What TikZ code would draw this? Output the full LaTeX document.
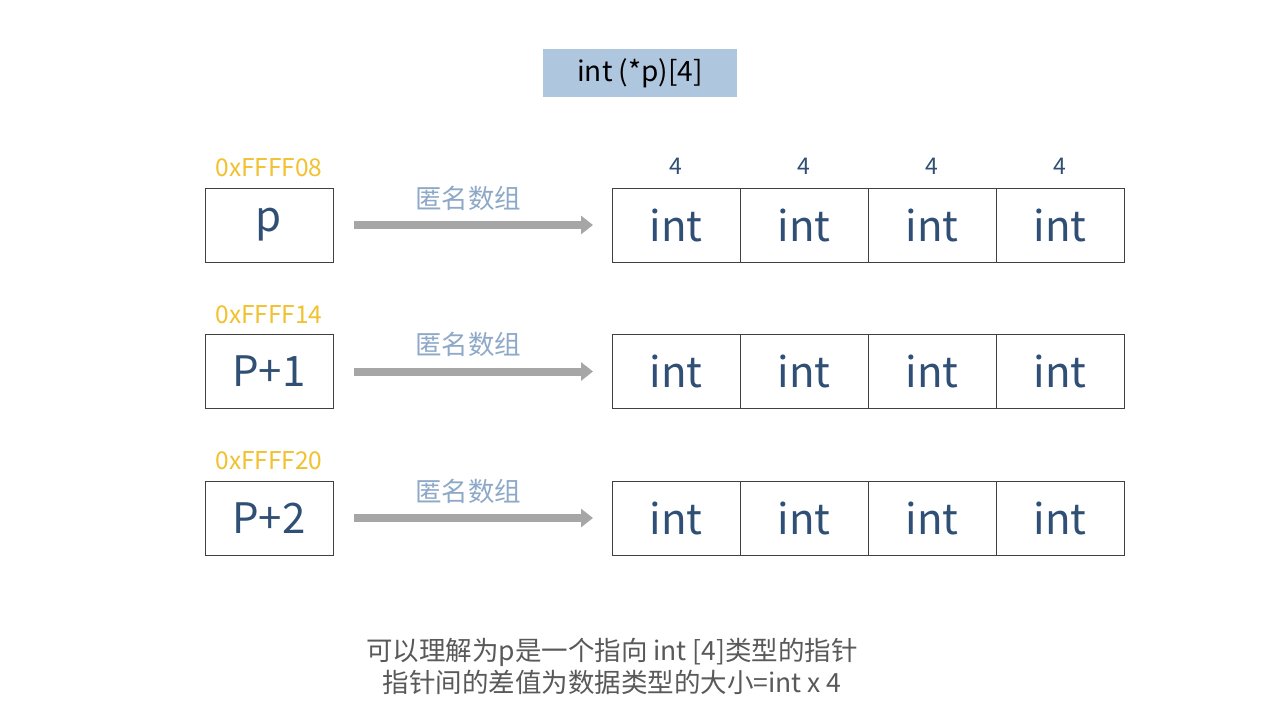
\documentclass[tikz,border=0pt]{standalone}
\usepackage{fontspec}
\setmainfont{Noto Sans CJK SC}[Scale=1]
\usetikzlibrary{arrows.meta}
\definecolor{titlebg}{HTML}{AFC6DF}
\definecolor{addr}{HTML}{F2C12E}
\definecolor{dkblue}{HTML}{2F5074}
\definecolor{lblue}{HTML}{8EA9C8}
\definecolor{arrgray}{HTML}{A6A6A6}
\definecolor{txtgray}{HTML}{595959}
\begin{document}
\begin{tikzpicture}[x=1pt,y=-1pt,
  cell/.style={draw=black!75,line width=1pt,minimum width=128pt,minimum height=74pt,inner sep=0pt,text=dkblue,font=\fontsize{42}{42}\selectfont},
  addrlbl/.style={text=addr,font=\fontsize{24.5}{24.5}\selectfont,inner sep=0pt},
  sizelbl/.style={text=dkblue,font=\fontsize{23}{23}\selectfont,inner sep=0pt},
  anonlbl/.style={text=lblue,font=\fontsize{26.5}{26.5}\selectfont,inner sep=0pt},
  bigarrow/.style={draw=arrgray,line width=8pt,-{Triangle[length=12pt,width=18pt]}}]
\useasboundingbox[fill=white] (0,0) rectangle (1280,720);
\node[fill=titlebg,minimum width=194pt,minimum height=48pt,inner sep=0pt,font=\fontsize{28}{28}\selectfont] (title) at (640,73) {int (*p)[4]};
\foreach \r/\y/\lab/\ad in {1/225/p/0xFFFF08,2/371.5/P+1/0xFFFF14,3/518/P+2/0xFFFF20}{
  \node[cell] (ptr\r) at (269,\y) {\lab};
  \node[addrlbl] (addr\r) at (269,\y-57) {\ad};
  \foreach \c in {1,...,4}{
    \node[cell] (c\r\c) at ({676+128*(\c-1)},\y) {int};
  }
  \node[anonlbl] (anon\r) at (468,\y-27) {匿名数组};
  \coordinate (as\r) at (354,\y);
  \coordinate (ae\r) at (593,\y);
  \draw[bigarrow] (as\r) -- (ae\r);
}
\foreach \c in {1,...,4}{
  \node[sizelbl] (s\c) at ({676+128*(\c-1)},166) {4};
}
\node[text=txtgray,font=\fontsize{26.5}{32}\selectfont,align=center,inner sep=0pt] (note) at (612,666) {可以理解为p是一个指向 int [4]类型的指针\\指针间的差值为数据类型的大小=int x 4};
\end{tikzpicture}
\end{document}
